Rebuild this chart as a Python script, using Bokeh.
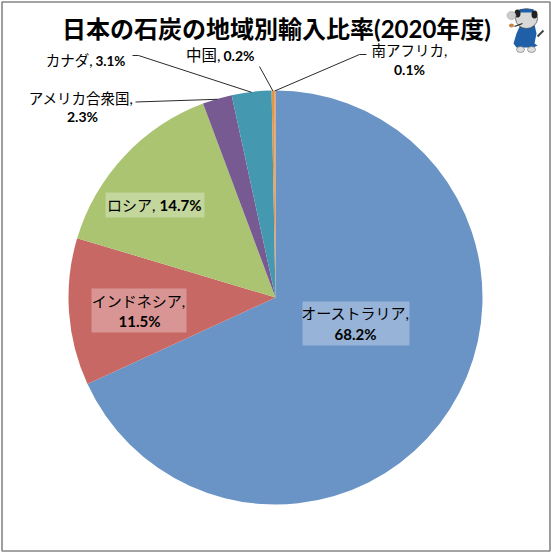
from math import pi, sin, cos
from bokeh.plotting import figure
from bokeh.core.properties import value
from bokeh.models import ColumnDataSource, Range1d
from bokeh.embed import file_html
from bokeh.resources import INLINE

countries = ["オーストラリア", "インドネシア", "ロシア", "アメリカ合衆国", "カナダ", "中国", "南アフリカ"]
shares = [68.2, 11.5, 14.7, 2.3, 3.1, 0.2, 0.1]
colors = ["#6A93C6", "#C86865", "#AAC471", "#775A92", "#4498B0", "#E39548", "#E39548"]
title = "日本の石炭の地域別輸入比率(2020年度)"

W, H = 551, 552
CX, CY, R = 275, 297, 207
def Y(py):
    return H - py

p = figure(width=W, height=H, x_range=Range1d(0, W), y_range=Range1d(0, H),
           output_backend="svg", toolbar_location=None, min_border=0,
           x_axis_type=None, y_axis_type=None, outline_line_color=None,
           background_fill_color="white", border_fill_color="white")
p.margin = 0
p.grid.visible = False

# frame
p.quad(left=[1.5], right=[549.5], bottom=[Y(550.5)], top=[Y(1.5)], fill_color=None,
       line_color="#868686", line_width=1.6)

# pie
total = sum(shares)
starts, ends, mids = [], [], []
a = pi / 2
for v in shares:
    d = v / total * 2 * pi
    starts.append(a)
    ends.append(a - d)
    mids.append(a - d / 2)
    a -= d
src = ColumnDataSource(dict(start=starts, end=ends, color=colors))
p.wedge(x=CX, y=Y(CY), radius=R, start_angle="start", end_angle="end", direction="clock",
        fill_color="color", line_color=None, source=src)

# leader lines: elbow then to the slice's mid-angle on the rim
def rim(i, f=1.0):
    return CX + R * f * cos(mids[i]), Y(CY) + R * f * sin(mids[i])
leaders = [
    (3, [(135, 101.5)]),
    (4, [(132, 55), (138, 55)]),
    (5, [(259, 66)]),
    (6, [(366, 54), (359, 54)]),
]
for i, pts in leaders:
    rx, ry = rim(i, 0.998)
    xs = [q[0] for q in pts] + [rx]
    ys = [Y(q[1]) for q in pts] + [ry]
    p.line(xs, ys, line_color="#2a2a2a", line_width=1)

# label backgrounds
for l, r, t, b in [(302, 409, 301, 345), (91, 186, 288, 332), (105, 204, 192, 217)]:
    p.quad(left=[l], right=[r], top=[Y(t)], bottom=[Y(b)], fill_color="white", fill_alpha=0.3, line_color=None)

FONT = "Lato, 'Noto Sans CJK JP', sans-serif"
def txt(x, py, s, bold=False, align="center", size="14px", color="#000000"):
    p.text(x=[x], y=[Y(py)], text=[s], text_font=value(FONT), text_font_size=size,
           text_font_style="bold" if bold else "normal", text_align=align,
           text_baseline="middle", text_color=color)

def pct(i):
    return f"{shares[i]}%"

# title
txt(276, 28, title, bold=True, size="24px")

# labels
txt(355, 312, countries[0] + ",", size="15px")
txt(355, 333.5, pct(0), bold=True, size="15px")
txt(138, 300, countries[1] + ",", size="15px")
txt(139, 320.5, pct(1), bold=True, size="15px")
txt(155, 204, countries[2] + ",", align="right", size="15px")
txt(159, 204, pct(2), bold=True, align="left", size="15px")
txt(133, 98, countries[3] + ",", align="right", size="14.5px")
txt(82, 116, pct(3), bold=True, size="14px")
txt(92, 60, countries[4] + ",", align="right", size="14.5px")
txt(95, 60, pct(4), bold=True, align="left", size="13.5px")
txt(220, 54, countries[5] + ",", align="right", size="15.5px")
txt(223, 55, pct(5), bold=True, align="left", size="14px")
txt(409, 50, countries[6] + ",", size="14.5px")
txt(409, 69, pct(6), bold=True, size="14px")

# small mascot (pipe-smoking cat in a blue vest), decoration at the top right
def shape(xs, ys, c):
    p.patch(xs, [Y(v) for v in ys], fill_color=c, line_color=None)
shape([520, 534, 536, 534, 537, 533, 516, 513, 516], [24, 24, 33, 43, 45, 47, 47, 43, 33], "#1F5FA8")
p.ellipse(x=[526], y=[Y(18)], width=[22], height=[20], fill_color="#d8d8d8", line_color="#333333", line_width=0.6)
p.quad(left=[519], right=[533], top=[Y(8.5)], bottom=[Y(12)], fill_color="#1F5FA8", line_color=None)
p.ellipse(x=[517, 534], y=[Y(13), Y(14)], width=[6, 6], height=[8, 8], fill_color="#222222", line_color=None)
p.ellipse(x=[511], y=[Y(15)], width=[9], height=[8], fill_color="#cccccc", line_color="#999999", line_width=0.5)
p.ellipse(x=[511], y=[Y(25)], width=[5], height=[4], fill_color="#c9874a", line_color=None)
p.line([514, 522], [Y(26), Y(23)], line_color="#222222", line_width=1.2)
p.line([537, 543], [Y(36), Y(30)], line_color="#444444", line_width=2)
p.ellipse(x=[520, 531], y=[Y(49), Y(49)], width=[8, 8], height=[6, 6], fill_color="#dddddd", line_color="#555555", line_width=0.5)

open("out.html", "w").write(file_html(p, INLINE))
